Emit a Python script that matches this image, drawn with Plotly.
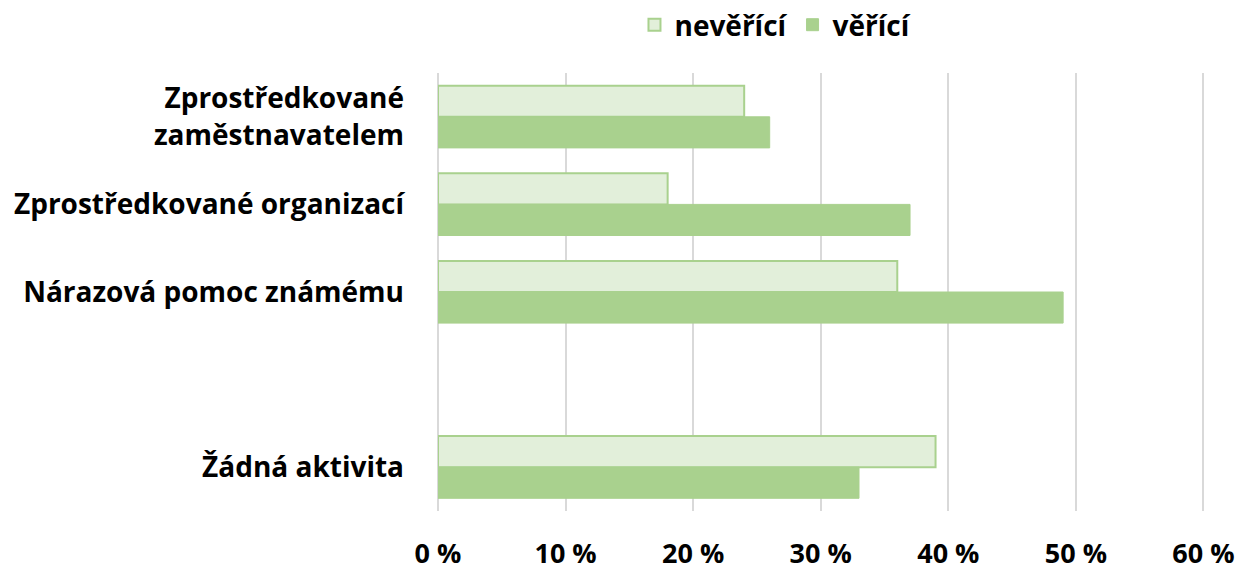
import plotly.graph_objects as go

categories = ["Zprostředkované<br>zaměstnavatelem", "Zprostředkované organizací",
              "Nárazová pomoc známému", " ", "Žádná aktivita"]
neveri = [24, 18, 36, None, 39]
veri = [26, 37, 49, None, 33]
tick_vals = [0, 10, 20, 30, 40, 50, 60]
tick_text = ["0 %", "10 %", "20 %", "30 %", "40 %", "50 %", "60 %"]

FONT = "Open Sans"

fig = go.Figure()
fig.add_trace(go.Bar(
    y=categories, x=neveri, orientation="h", name="nevěřící",
    marker=dict(color="#e2efda", line=dict(color="#a9d18e", width=2)),
))
fig.add_trace(go.Bar(
    y=categories, x=veri, orientation="h", name="věřící",
    marker=dict(color="#a9d18e", line=dict(color="#a9d18e", width=1)),
))

fig.update_layout(
    width=1251, height=571,
    paper_bgcolor="white", plot_bgcolor="white",
    margin=dict(l=438, r=46, t=73, b=60, autoexpand=False),
    barmode="group", bargap=0.29, bargroupgap=0,
    font=dict(family=FONT, size=26, color="black"),
    legend=dict(orientation="h", x=0.44, xanchor="center", y=1.0, yanchor="top",
                yref="container", font=dict(family=FONT, size=28, color="black", weight="bold"),
                itemwidth=30, traceorder="normal"),
    showlegend=True,
)
fig.update_xaxes(
    range=[0, 60.12], tickvals=tick_vals, ticktext=tick_text,
    showgrid=True, gridcolor="#d9d9d9", gridwidth=2,
    zeroline=True, zerolinecolor="#d9d9d9", zerolinewidth=2, showline=False,
    ticks="outside", ticklen=0, ticklabelstandoff=19, automargin=False,
    tickfont=dict(family=FONT, size=27, color="black", weight="bold"),
)
fig.update_yaxes(
    categoryorder="array", categoryarray=categories, autorange="reversed",
    showgrid=False, zeroline=False, showline=False, automargin=False,
    ticks="", ticklabelstandoff=33,
    tickfont=dict(family=FONT, size=28, color="black", weight="bold"),
)

fig.write_html("out.html", config={"displayModeBar": False},
               post_script="document.body.style.margin='0';")
